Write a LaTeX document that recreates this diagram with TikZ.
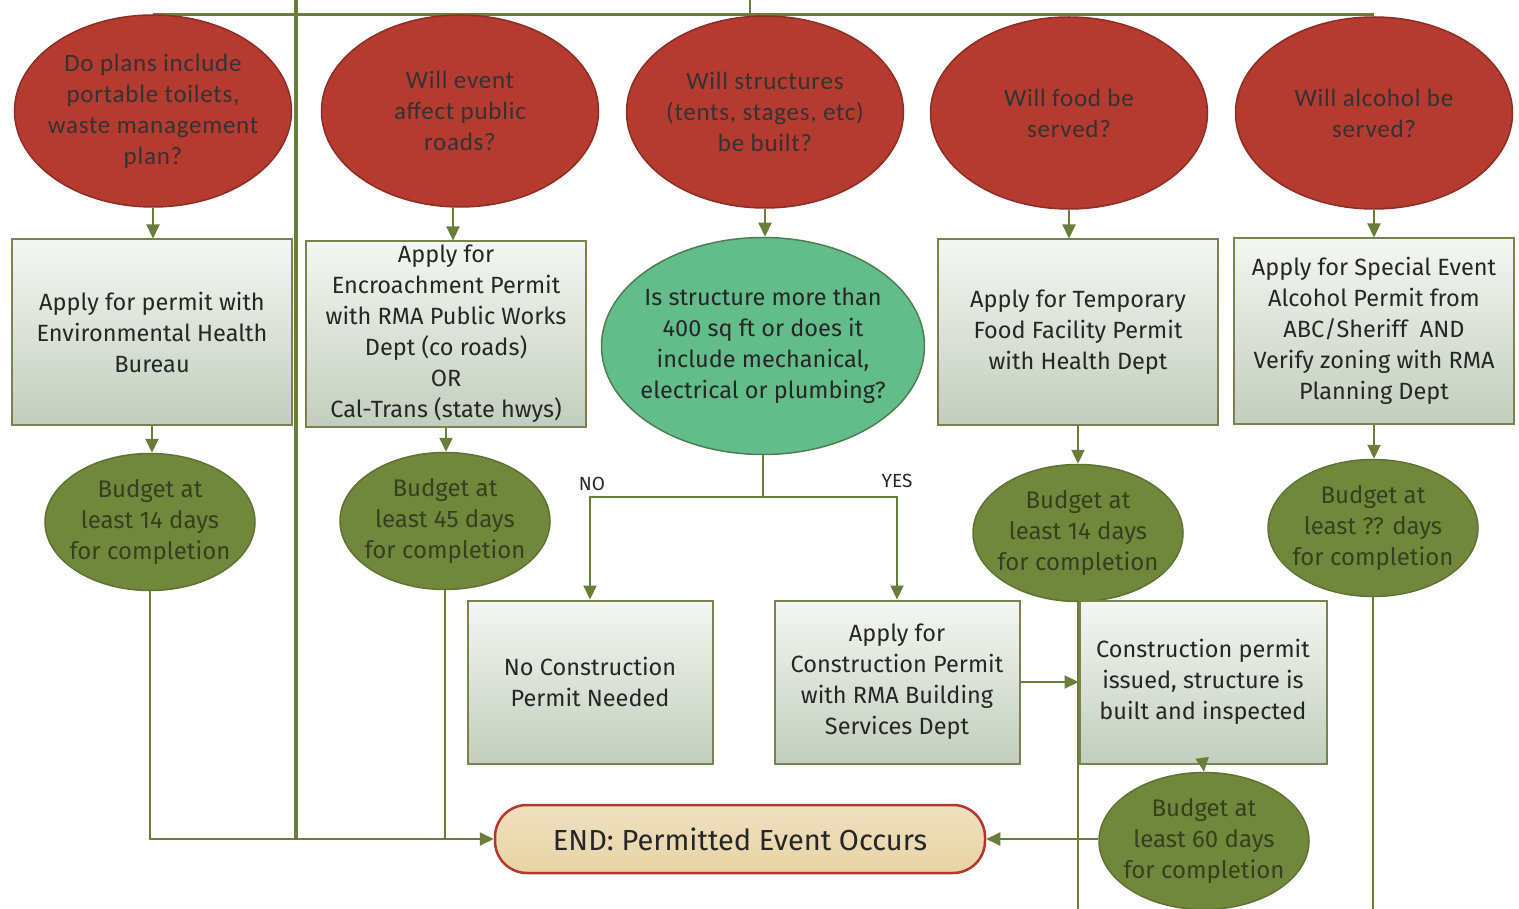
\documentclass[tikz,border=0pt]{standalone}
\usepackage{fontspec}
\setmainfont{Carlito}[LetterSpace=3]
\newfontfamily\fgfont{Fira Sans}
\usetikzlibrary{arrows.meta,shapes.geometric,backgrounds}
\definecolor{redfill}{HTML}{B53A2F}
\definecolor{redline}{HTML}{8E2D24}
\definecolor{olive}{HTML}{6B7D3A}
\definecolor{budfill}{HTML}{71883C}
\definecolor{budline}{HTML}{5E7231}
\definecolor{budtext}{HTML}{36401F}
\definecolor{greenfill}{HTML}{62BD8A}
\definecolor{greenline}{HTML}{4F7D52}
\definecolor{boxtop}{HTML}{F4F6F2}
\definecolor{boxbot}{HTML}{C3CDBE}
\definecolor{boxline}{HTML}{77844F}
\definecolor{endfill}{HTML}{E7D3A5}
\definecolor{endline}{HTML}{B3372C}
\begin{document}
\begin{tikzpicture}[x=1pt,y=-1pt,
  question/.style={ellipse, draw=redline, line width=1.5pt, fill=redfill,
    minimum width=277pt, minimum height=192pt, inner sep=-40pt, align=center,
    font=\fontsize{25}{31}\selectfont, text=black!80},
  box/.style={rectangle, draw=boxline, line width=2pt, top color=boxtop,
    bottom color=boxbot, minimum width=280pt, minimum height=185pt,
    inner sep=0pt, align=center, font=\fgfont\fontsize{23.5}{31}\selectfont,
    text=black!85},
  smallbox/.style={box, minimum width=245pt, minimum height=163pt},
  decision/.style={ellipse, draw=greenline, line width=1.5pt, fill=greenfill,
    minimum width=323pt, minimum height=217pt, inner sep=-40pt, align=center,
    font=\fgfont\fontsize{23.5}{31}\selectfont, text=black!85},
  budget/.style={ellipse, draw=budline, line width=1.5pt, fill=budfill,
    minimum width=210pt, minimum height=137pt, inner sep=-40pt, align=center,
    font=\fgfont\fontsize{24}{31}\selectfont, text=budtext},
  endbox/.style={rectangle, rounded corners=32pt, draw=endline, line width=2.5pt,
    top color=endfill!70!white, bottom color=endfill, minimum width=490pt,
    minimum height=68pt, inner sep=0pt, font=\fgfont\fontsize{29}{32}\selectfont,
    text=black!85},
  lbl/.style={font=\fgfont\fontsize{19}{20}\selectfont, inner sep=0pt, text=black!85},
  conn/.style={draw=olive, line width=2.2pt},
  arr/.style={conn, -{Triangle[length=14pt,width=13pt]}}
]
\useasboundingbox (0,0) rectangle (1519,909);

% questions
\node[question] (q1) at (153,111) {Do plans include\\portable toilets,\\waste management\\plan?};
\node[question] (q2) at (460,111) {Will event\\affect public\\roads?};
\node[question] (q3) at (765,112) {Will structures\\(tents, stages, etc)\\be built?};
\node[question] (q4) at (1069,113) {Will food be\\served?};
\node[question] (q5) at (1374,113) {Will alcohol be\\served?};

% second row
\node[box] (a1) at (152,332) {Apply for permit with\\Environmental Health\\Bureau};
\node[box] (a2) at (446,334) {Apply for\\Encroachment Permit\\with RMA Public Works\\Dept (co roads)\\OR\\Cal-Trans (state hwys)};
\node[decision] (g3) at (763,346) {Is structure more than\\400 sq ft or does it\\include mechanical,\\electrical or plumbing?};
\node[box] (a4) at (1078,332) {Apply for Temporary\\Food Facility Permit\\with Health Dept};
\node[box] (a5) at (1374,331) {Apply for Special Event\\Alcohol Permit from\\ABC/Sheriff\ \ AND\\Verify zoning with RMA\\Planning Dept};

% budgets
\node[budget] (b1) at (150,522) {Budget at\\least 14 days\\for completion};
\node[budget] (b2) at (445,521) {Budget at\\least 45 days\\for completion};
\node[budget] (b4) at (1078,533) {Budget at\\least 14 days\\for completion};
\node[budget] (b5) at (1373,528) {Budget at\\least ?? days\\for completion};
\node[budget] (b6) at (1204,841) {Budget at\\least 60 days\\for completion};

% lower boxes
\node[smallbox] (n1) at (590,682) {No Construction\\Permit Needed};
\node[smallbox] (c1) at (897,682) {Apply for\\Construction Permit\\with RMA Building\\Services Dept};
\node[smallbox, minimum width=247pt] (c2) at (1203,682) {Construction permit\\issued, structure is\\built and inspected};

% end
\node[endbox] (endn) at (740,839) {END: Permitted Event Occurs};

% labels
\node[lbl] (no) at (592,484) {NO};
\node[lbl] (yes) at (897,481) {YES};

% coordinates
\coordinate (topmid) at (750,0);
\coordinate (trunktop) at (296,0);
\coordinate (fork) at (763,497);
\coordinate (bottom) at (0,909);

\begin{scope}[on background layer]
  \draw[conn] (topmid) -- (topmid |- q1.north);
  \draw[conn, line width=3pt] (q1.north) -- (q1.north -| q5.north);
  \draw[conn, line width=4pt] (trunktop) -- (trunktop |- endn.west);
  \draw[conn] (b4.south) -- (b4.south |- bottom);
  \draw[conn] (b5.south) -- (b5.south |- bottom);
\end{scope}

% question -> boxes
\draw[arr] (q1.south) -- (q1.south |- a1.north);
\draw[arr] ([xshift=-7pt]q2.south) -- ([xshift=-7pt]q2.south |- a2.north);
\draw[arr] (q3.south) -- (q3.south |- g3.north);
\draw[arr] (q4.south) -- (q4.south |- a4.north);
\draw[arr] (q5.south) -- (q5.south |- a5.north);

% boxes -> budgets
\draw[arr] (a1.south) -- (a1.south |- b1.north);
\draw[arr] (a2.south) -- (a2.south |- b2.north);
\draw[arr] (a4.south) -- (a4.south |- b4.north);
\draw[arr] (a5.south) -- (a5.south |- b5.north);

% decision
\draw[conn] (g3.south) -- (fork);
\draw[arr] (fork) -| (n1.north);
\draw[arr] (fork) -| (c1.north);
\draw[arr] (c1.east) -- (c2.west);
\draw[arr] (c2.south) -- (b6.north);

% to end
\draw[arr] (b1.south) |- (endn.west);
\draw[conn] (b2.south) -- (b2.south |- endn.west);
\draw[arr] (b6.west |- endn.east) -- (endn.east);
\end{tikzpicture}
\end{document}
